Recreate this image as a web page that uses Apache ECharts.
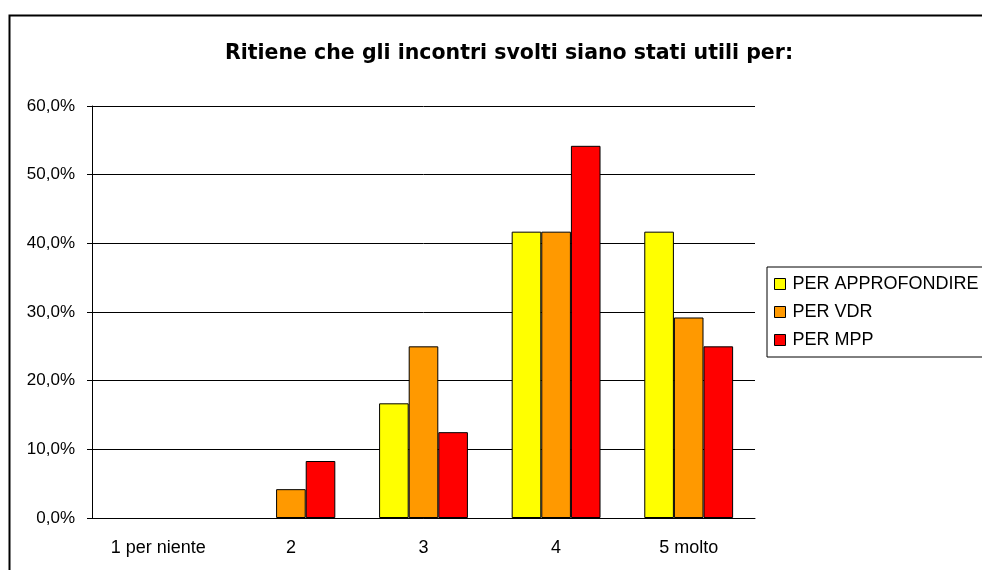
<!DOCTYPE html>
<html>
<head>
<meta charset="utf-8">
<script src="https://cdn.jsdelivr.net/npm/echarts@6/dist/echarts.min.js"></script>
<style>
  html, body { margin: 0; padding: 0; background: #fff; }
  #chart { width: 982px; height: 570px; }
</style>
</head>
<body>
<div id="chart"></div>
<script>
// dati (percentuali)
const categories = ['1 per niente', '2', '3', '4', '5 molto'];
const approfondire = [0, 0, 16.7, 41.7, 41.7];
const vdr = [0, 4.2, 25.0, 41.7, 29.2];
const mpp = [0, 8.3, 12.5, 54.2, 25.0];
const seriesNames = ['PER APPROFONDIRE', 'PER VDR', 'PER MPP'];
const colors = ['#ffff00', '#ff9900', '#ff0000'];

const FONT = 'Liberation Sans';

const chart = echarts.init(document.getElementById('chart'));

// le barre a zero non si vedono nell'originale
const toData = function (vals) {
  return vals.map(function (v) {
    return v === 0 ? { value: v, itemStyle: { borderWidth: 0 } } : v;
  });
};

const barSeries = [approfondire, vdr, mpp].map(function (vals, i) {
  return {
    name: seriesNames[i],
    type: 'bar',
    data: toData(vals),
    barGap: '0%',
    barCategoryGap: '33%',
    itemStyle: { color: colors[i], borderColor: '#000', borderWidth: 1 }
  };
});

chart.setOption({
  animation: false,
  color: colors,
  title: {
    text: 'Ritiene che gli incontri svolti siano stati utili per:',
    left: 504,
    textAlign: 'center',
    top: 38,
    textStyle: { fontFamily: 'DejaVu Sans', fontSize: 20.5, fontWeight: 'bold', color: '#000' }
  },
  legend: {
    orient: 'vertical',
    left: 767,
    top: 267,
    itemWidth: 11,
    itemHeight: 11,
    itemGap: 10,
    padding: [8, 60, 8, 7],
    borderColor: '#000',
    borderWidth: 1,
    icon: 'rect',
    itemStyle: { borderColor: '#000', borderWidth: 1 },
    textStyle: { fontFamily: FONT, fontSize: 18, color: '#000', padding: [0, 0, 0, 2] },
    data: seriesNames
  },
  graphic: [{
    type: 'rect',
    left: 7,
    top: 13,
    shape: { width: 1000, height: 600 },
    style: { fill: null, stroke: '#000', lineWidth: 2 },
    silent: true
  }],
  grid: { left: 92, top: 106, right: 227, bottom: 52 },
  xAxis: {
    type: 'category',
    data: categories,
    axisLine: { lineStyle: { color: '#000' } },
    axisTick: { length: 5, lineStyle: { color: '#000' } },
    axisLabel: { fontFamily: FONT, fontSize: 18, color: '#000', margin: 21 }
  },
  yAxis: {
    type: 'value',
    min: 0,
    max: 60,
    interval: 10,
    axisLine: { show: true, lineStyle: { color: '#000' } },
    axisTick: { show: true, length: 5, lineStyle: { color: '#000' } },
    splitLine: { lineStyle: { color: '#000' } },
    axisLabel: {
      fontFamily: FONT, fontSize: 17, color: '#000', margin: 17,
      formatter: function (v) { return v.toFixed(1).replace('.', ',') + '%'; }
    }
  },
  series: barSeries
});
</script>
</body>
</html>
